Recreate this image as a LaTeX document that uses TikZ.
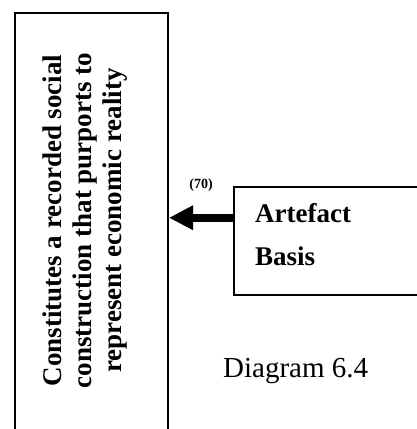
\documentclass[tikz,border=0pt]{standalone}
\usepackage{fontspec}
\setmainfont{Liberation Serif}
\usetikzlibrary{arrows.meta}
\begin{document}
\begin{tikzpicture}[x=1pt,y=-1pt,
  bigtext/.style={font=\fontsize{27}{30}\selectfont\bfseries},
  framebox/.style={draw=black,line width=2pt,inner sep=0pt},
  sourcebox/.style={draw=black,line width=1.5pt,inner sep=0pt},
  flowarrow/.style={line width=8pt,-{Triangle[length=24pt,width=23pt]}}]
  \useasboundingbox (0,0) rectangle (417,429);
  \clip (0,0) rectangle (417,429);
  \fill[white] (0,0) rectangle (417,429);
  % tall frame running off the lower edge
  \node[framebox,minimum width=153pt,minimum height=440pt,anchor=north west] (lbox) at (14,12) {};
  \node[bigtext,rotate=90,align=center,inner sep=0pt] (ltext) at (85,220.5)
    {Constitutes a recorded social\\construction that purports to\\represent economic reality};
  % source box running off the right edge
  \node[sourcebox,minimum width=200pt,minimum height=108pt,anchor=north west] (art) at (233,186) {};
  \node[font=\fontsize{27}{43}\selectfont\bfseries,align=left,anchor=base west,inner sep=0pt] (arttext) at (255,265)
    {Artefact\\Basis};
  \draw[flowarrow] ([yshift=23pt]art.west) -- ([yshift=23pt]art.west -| lbox.east);
  \node[font=\fontsize{14}{16}\selectfont\bfseries,inner sep=0pt] (num) at (201,185) {(70)};
  \node[font=\fontsize{29}{33}\selectfont,anchor=base west,inner sep=0pt] (cap) at (223,377) {Diagram 6.4};
\end{tikzpicture}
\end{document}
